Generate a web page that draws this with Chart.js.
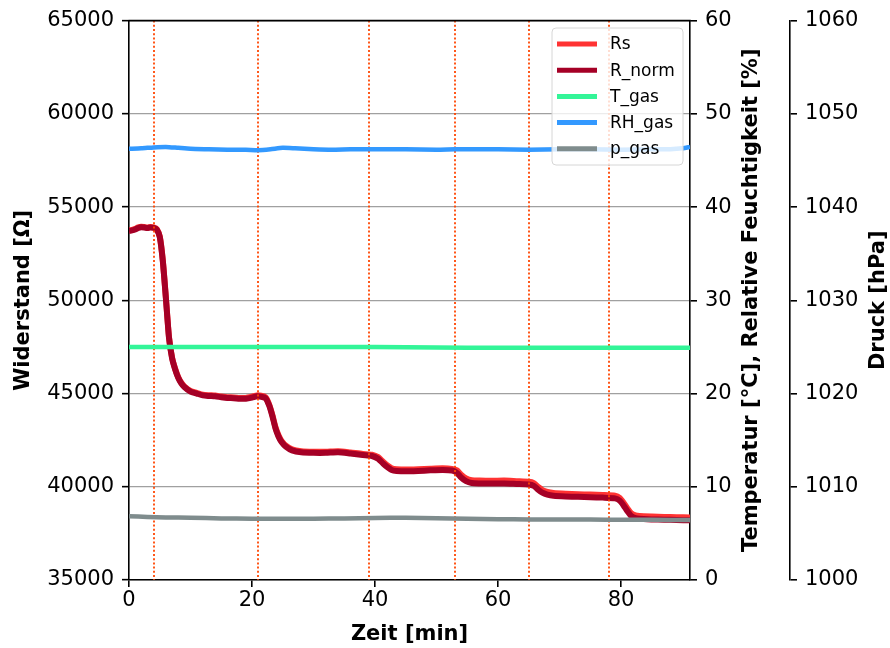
<!DOCTYPE html>
<html><head><meta charset="utf-8">
<script src="https://cdn.jsdelivr.net/npm/chart.js@4"></script>
<style>html,body{margin:0;padding:0;background:#fff}canvas{display:block}</style>
</head><body>
<canvas id="c" width="890" height="648" style="width:890px;height:648px"></canvas>
<script>
// ---- data (time in minutes) ----
const timeR = [0,0.5,1,1.5,2,2.5,3,3.5,4,4.5,5,5.5,6,6.5,7,7.5,8,8.5,9,10,11,12,13,14,15,16,17,18,19,20,20.8,21.5,22.2,22.8,23.3,23.8,24.3,24.8,25.5,26.5,28,30,32,34,36,38,39.5,40.5,41.3,42,42.7,43.5,45,47,49,51,52.5,53.3,54,54.8,55.7,57,59,61,63,65,65.8,66.5,67.2,68,69,71,73,75,77,79,79.8,80.4,81,81.6,82.3,83,85,87,89,91.2];
const rNormValues = [53720,53750,53800,53880,53920,53900,53880,53900,53880,53800,53400,52100,50100,48000,46900,46300,45850,45550,45350,45100,45000,44900,44870,44850,44800,44760,44750,44720,44720,44780,44850,44830,44750,44350,43800,43150,42700,42400,42150,41950,41850,41820,41820,41850,41780,41700,41650,41500,41250,41050,40900,40850,40830,40850,40880,40900,40870,40750,40500,40300,40200,40180,40170,40180,40150,40120,40050,39850,39680,39580,39520,39480,39460,39440,39420,39380,39250,39000,38700,38450,38320,38280,38250,38230,38220,38200];
const rsValues = [53750,53780,53830,53910,53950,53930,53910,53930,53910,53830,53430,52130,50130,48030,46930,46330,45880,45580,45380,45140,45040,44940,44910,44890,44840,44800,44790,44760,44760,44830,44900,44880,44800,44400,43860,43210,42760,42460,42210,42010,41910,41880,41880,41910,41840,41760,41720,41590,41340,41140,40990,40940,40920,40940,40970,40990,40960,40880,40640,40450,40350,40330,40320,40330,40300,40270,40200,40000,39820,39720,39660,39620,39600,39580,39560,39520,39390,39140,38850,38600,38470,38430,38400,38380,38370,38350];

const timeEnv = [0,2,4,6,8,10,13,16,19,21,23,25,27,30,33,36,40,45,50,53,56,60,65,70,75,80,85,88,90,91.2];
const rhValues = [46.25,46.3,46.4,46.45,46.35,46.25,46.2,46.15,46.15,46.1,46.2,46.35,46.3,46.2,46.15,46.2,46.2,46.2,46.15,46.2,46.2,46.2,46.15,46.2,46.2,46.15,46.2,46.2,46.3,46.45];

const timeT = [0,20,40,50,60,80,91.2];
const tValues = [25.0,25.0,25.0,24.95,24.9,24.9,24.9];

const timeP = [0,3,6,10,15,20,25,30,35,40,45,50,55,60,65,70,75,80,85,91.2];
const pValues = [1006.85,1006.75,1006.7,1006.68,1006.6,1006.58,1006.58,1006.58,1006.6,1006.65,1006.68,1006.62,1006.58,1006.52,1006.5,1006.48,1006.48,1006.46,1006.45,1006.44];

const eventTimes = [4,21,39,53,65,78];
const seriesLabels = ['Rs','R_norm','T_gas','RH_gas','p_gas'];

const xRange = [0, 91.2];
const rRange = [35000, 65000];
const envRange = [0, 60];
const pRange = [1000, 1060];

const pts = (xs, ys) => xs.map((x, i) => ({x, y: ys[i]}));

Chart.defaults.font.family = 'DejaVu Sans';
Chart.defaults.color = '#000';

const FONT = {family:'DejaVu Sans', size:21};
const TITLE_FONT = 'bold 21px "DejaVu Sans"';

const overlay = {
  id: 'overlay',
  afterDatasetDraw(chart, args) {
    if (args.index !== 1) return;
    const {ctx, chartArea} = chart;
    const xs = chart.scales.x;
    ctx.save();
    ctx.beginPath();
    ctx.rect(chartArea.left, chartArea.top, chartArea.right - chartArea.left, chartArea.bottom - chartArea.top);
    ctx.clip();
    ctx.strokeStyle = 'rgba(255,69,0,0.9)';
    ctx.lineWidth = 2;
    ctx.setLineDash([2, 2.2]);
    eventTimes.forEach(t => {
      const px = Math.round(xs.getPixelForValue(t));
      ctx.beginPath();
      ctx.moveTo(px, chartArea.top);
      ctx.lineTo(px, chartArea.bottom);
      ctx.stroke();
    });
    ctx.restore();
  },
  afterDraw(chart) {
    const {ctx, chartArea} = chart;
    ctx.save();
    // top spine
    ctx.strokeStyle = '#000';
    ctx.lineWidth = 1.6;
    ctx.beginPath();
    ctx.moveTo(chartArea.left - 0.8, chartArea.top);
    ctx.lineTo(chartArea.right + 0.8, chartArea.top);
    ctx.stroke();

    // legend
    const lx = 552, ly = 28, lw = 131, lh = 137, r = 4;
    ctx.beginPath();
    ctx.moveTo(lx + r, ly);
    ctx.arcTo(lx + lw, ly, lx + lw, ly + lh, r);
    ctx.arcTo(lx + lw, ly + lh, lx, ly + lh, r);
    ctx.arcTo(lx, ly + lh, lx, ly, r);
    ctx.arcTo(lx, ly, lx + lw, ly, r);
    ctx.closePath();
    ctx.fillStyle = 'rgba(255,255,255,0.8)';
    ctx.fill();
    ctx.strokeStyle = '#d6d6d6';
    ctx.lineWidth = 1;
    ctx.stroke();
    ctx.font = '17px "DejaVu Sans"';
    ctx.textBaseline = 'middle';
    ctx.textAlign = 'left';
    chart.data.datasets.forEach((ds, i) => {
      const y = 44 + i * 26.2;
      ctx.strokeStyle = ds.borderColor;
      ctx.lineWidth = 5;
      ctx.setLineDash([]);
      ctx.beginPath();
      ctx.moveTo(557, y);
      ctx.lineTo(597, y);
      ctx.stroke();
      ctx.fillStyle = '#000';
      ctx.fillText(ds.label, 610, y + 1);
    });

    // axis titles
    ctx.fillStyle = '#000';
    ctx.font = TITLE_FONT;
    ctx.textAlign = 'center';
    ctx.textBaseline = 'middle';
    const cy = (chartArea.top + chartArea.bottom) / 2;
    const rot = (text, x, y) => {
      ctx.save();
      ctx.translate(x, y);
      ctx.rotate(-Math.PI / 2);
      ctx.fillText(text, 0, 0);
      ctx.restore();
    };
    rot('Widerstand [Ω]', 24, cy);
    rot('Temperatur [°C], Relative Feuchtigkeit [%]', 752, cy);
    rot('Druck [hPa]', 879, cy);
    ctx.fillText('Zeit [min]', (chartArea.left + chartArea.right) / 2, 635);
    ctx.restore();
  }
};

const tickGrid = {drawOnChartArea:false, color:'#000', tickColor:'#000', tickLength:7, tickWidth:1.6, lineWidth:1.6};
const border = {display:true, color:'#000', width:1.6};

new Chart(document.getElementById('c'), {
  type: 'line',
  data: {
    datasets: [
      {label: seriesLabels[0], data: pts(timeR, rsValues), yAxisID:'y', borderColor:'#ff3333', borderWidth:6, order:5},
      {label: seriesLabels[1], data: pts(timeR, rNormValues), yAxisID:'y', borderColor:'#a50026', borderWidth:6, order:4},
      {label: seriesLabels[2], data: pts(timeT, tValues), yAxisID:'y1', borderColor:'#33f598', borderWidth:4.5, order:3},
      {label: seriesLabels[3], data: pts(timeEnv, rhValues), yAxisID:'y1', borderColor:'#3399ff', borderWidth:4.5, order:2},
      {label: seriesLabels[4], data: pts(timeP, pValues), yAxisID:'y2', borderColor:'#7f8c8d', borderWidth:4.5, order:1}
    ]
  },
  options: {
    responsive: false,
    animation: false,
    devicePixelRatio: 1,
    elements: {point:{radius:0}, line:{tension:0.2, borderCapStyle:'butt', borderJoinStyle:'round'}},
    layout: {padding:{top:19, left:0, right:0, bottom:0}},
    plugins: {legend:{display:false}, tooltip:{enabled:false}},
    scales: {
      x: {
        type:'linear', position:'bottom', min:xRange[0], max:xRange[1],
        ticks:{stepSize:20, includeBounds:false, font:FONT, padding:1, color:'#000', maxRotation:0, callback:v=>String(v)},
        grid: tickGrid, border: border,
        afterFit: s => { s.height = 68; }
      },
      y: {
        type:'linear', position:'left', min:rRange[0], max:rRange[1],
        ticks:{stepSize:5000, font:FONT, padding:8, color:'#000', callback:v=>String(v)},
        grid:{drawOnChartArea:true, color:'rgba(128,128,128,0.75)', lineWidth:1.3, tickColor:'#000', tickLength:7, tickWidth:1.6},
        border: border,
        afterFit: s => { s.width = 129; }
      },
      y1: {
        type:'linear', position:'right', weight:0, min:envRange[0], max:envRange[1],
        ticks:{stepSize:10, font:FONT, padding:8, color:'#000', callback:v=>String(v)},
        grid: tickGrid, border: border,
        afterFit: s => { s.width = 100; }
      },
      y2: {
        type:'linear', position:'right', weight:1, min:pRange[0], max:pRange[1],
        ticks:{stepSize:10, font:FONT, padding:8, color:'#000', callback:v=>String(v)},
        grid: tickGrid, border: border,
        afterFit: s => { s.width = 100; }
      }
    }
  },
  plugins: [overlay]
});
</script>
</body></html>
